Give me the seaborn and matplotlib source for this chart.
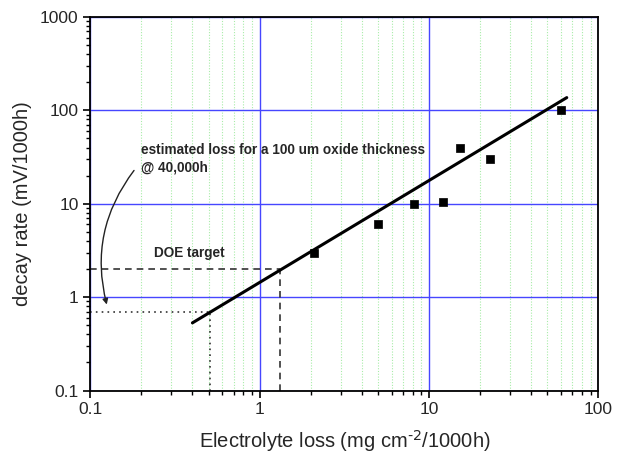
import numpy as np
import pandas as pd
import matplotlib
matplotlib.use("Agg")
import matplotlib.pyplot as plt
from matplotlib.ticker import LogLocator, FixedLocator, FixedFormatter, NullFormatter
import seaborn as sns

# Data
loss = [2.1, 5.0, 8.1, 12.0, 15.2, 23.0, 60.0]
decay = [3.0, 6.0, 10.0, 10.5, 40.0, 30.0, 100.0]
fit_x = [0.4, 65.0]
fit_y = [0.53, 137.0]
doe_x = 1.32
doe_y = 2.0
est_x = 0.51
est_y = 0.7
x_ticks = [0.1, 1, 10, 100]
x_labels = ["0.1", "1", "10", "100"]
y_ticks = [0.1, 1, 10, 100, 1000]
y_labels = ["0.1", "1", "10", "100", "1000"]

sns.set_style("ticks")
plt.rcParams['font.family'] = ['Liberation Sans', 'DejaVu Sans']

fig = plt.figure(figsize=(6.31, 4.57), dpi=100)
ax = fig.add_axes([0.1434, 0.1455, 0.805, 0.8173])

ax.set_xscale("log")
ax.set_yscale("log")
ax.set_xlim(0.1, 100)
ax.set_ylim(0.1, 1000)

# grids
ax.xaxis.set_minor_locator(LogLocator(base=10, subs=np.arange(2, 10)))
ax.yaxis.set_minor_locator(LogLocator(base=10, subs=np.arange(2, 10)))
ax.grid(which="major", axis="both", color="#4646ff", lw=1.0, ls="-", zorder=0)
ax.grid(which="minor", axis="x", color="#a8eca8", lw=0.8, ls=(0, (1, 1.5)), zorder=0)
ax.set_axisbelow(True)

# reference lines
ax.plot([0.1, doe_x], [doe_y, doe_y], color="#333333", ls=(0, (4, 3)), lw=1.2, zorder=2)
ax.plot([doe_x, doe_x], [0.1, doe_y], color="#333333", ls=(0, (4, 3)), lw=1.2, zorder=2)
ax.plot([0.1, est_x], [est_y, est_y], color="#333333", ls=(0, (1, 2.5)), lw=1.2, zorder=2)
ax.plot([est_x, est_x], [0.1, est_y], color="#333333", ls=(0, (1, 2.5)), lw=1.2, zorder=2)

# fit line and data
sns.lineplot(x=fit_x, y=fit_y, ax=ax, color="black", lw=2.2, zorder=3)
df = pd.DataFrame({"loss": loss, "decay": decay})
sns.scatterplot(data=df, x="loss", y="decay", ax=ax, marker="s", s=40,
                color="black", edgecolor="black", zorder=4)

ax.xaxis.set_major_locator(FixedLocator(x_ticks))
ax.xaxis.set_major_formatter(FixedFormatter(x_labels))
ax.yaxis.set_major_locator(FixedLocator(y_ticks))
ax.yaxis.set_major_formatter(FixedFormatter(y_labels))
ax.xaxis.set_minor_formatter(NullFormatter())
ax.yaxis.set_minor_formatter(NullFormatter())
ax.tick_params(which="major", direction="out", length=5, width=1.2, labelsize=12.5, color="black")
ax.tick_params(which="minor", direction="out", length=3, width=1.0, color="black")
for s in ax.spines.values():
    s.set_visible(True)
    s.set_linewidth(1.3)
    s.set_color("black")

ax.set_xlabel(r"Electrolyte loss (mg cm$^{\text{-2}}$/1000h)", fontsize=14.5, labelpad=8)
ax.set_ylabel("decay rate (mV/1000h)", fontsize=14.5, labelpad=6)

ax.text(0.236, 2.95, "DOE target", fontsize=9.8, fontweight="bold", va="center", ha="left")
ax.text(0.2, 30.5, "estimated loss for a 100 um oxide thickness\n@ 40,000h",
        fontsize=9.8, fontweight="bold", va="center", ha="left", linespacing=1.3)
ax.annotate("", xy=(0.126, 0.78), xytext=(0.185, 24.0),
            arrowprops=dict(arrowstyle="-|>", color="#222222", lw=1.0,
                            connectionstyle="arc3,rad=0.25", mutation_scale=8))

fig.savefig("out.png", dpi=100)
